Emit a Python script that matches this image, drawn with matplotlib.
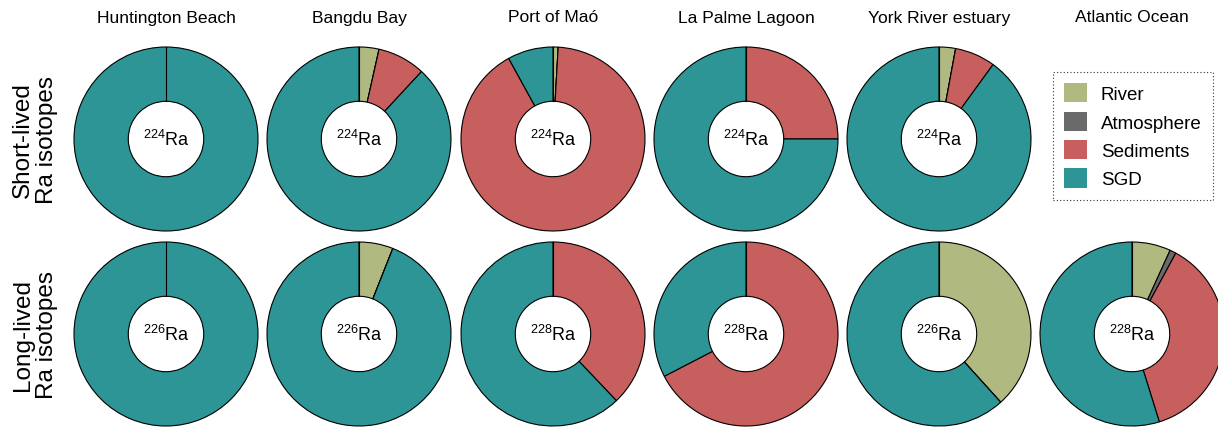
import matplotlib
matplotlib.use("Agg")
import matplotlib.pyplot as plt
from matplotlib.patches import Patch

plt.rcParams['font.family'] = ['Liberation Sans', 'DejaVu Sans']
plt.rcParams['mathtext.fontset'] = 'custom'
plt.rcParams['mathtext.rm'] = 'Liberation Sans'
plt.rcParams['mathtext.it'] = 'Liberation Sans'

sites = ["Huntington Beach", "Bangdu Bay", "Port of Maó",
         "La Palme Lagoon", "York River estuary", "Atlantic Ocean"]
sources = ["River", "Atmosphere", "Sediments", "SGD"]
colors = ["#AFB980", "#6A6A6A", "#C65F5E", "#2D9595"]

# % contribution per source (River, Atmosphere, Sediments, SGD)
short_lived = [
    [0, 0, 0, 100],
    [3.5, 0, 8.4, 88.1],
    [0.9, 0, 91.1, 8.0],
    [0, 0, 25, 75],
    [2.9, 0, 7.1, 90.0],
    None,
]
short_iso = ["224", "224", "224", "224", "224", None]

long_lived = [
    [0, 0, 0, 100],
    [6.0, 0, 0, 94.0],
    [0, 0, 37.9, 62.1],
    [0, 0, 67.4, 32.6],
    [38.3, 0, 0, 61.7],
    [6.8, 1.1, 37.3, 54.8],
]
long_iso = ["226", "226", "228", "228", "226", "228"]

W, H = 1218, 435
fig = plt.figure(figsize=(W / 100, H / 100), dpi=100)

col_x = [166, 359, 553, 746, 939, 1132]
row_y = [140, 335]
rad = 92
half = rad * 1.05
hole = 0.41


def donut(cx, cy, vals, iso):
    ax = fig.add_axes([(cx - half) / W, (H - cy - half) / H, 2 * half / W, 2 * half / H])
    ax.pie(vals, colors=colors, startangle=90, counterclock=False, radius=1,
           wedgeprops=dict(width=1 - hole, edgecolor="black", linewidth=0.8))
    # seam at 12 o'clock (not drawn for a full ring)
    ax.plot([0, 0], [hole, 1], color="black", lw=0.8)
    ax.text(0, 0, "$^{%s}$Ra" % iso, ha="center", va="center", fontsize=13)
    ax.set_xlim(-1.05, 1.05)
    ax.set_ylim(-1.05, 1.05)
    ax.set_aspect("equal")
    ax.axis("off")
    return ax


for i, name in enumerate(sites):
    fig.text(col_x[i] / W, 1 - 18 / H, name, ha="center", va="center", fontsize=12.6)
    if short_lived[i] is not None:
        donut(col_x[i], row_y[0], short_lived[i], short_iso[i])
    donut(col_x[i], row_y[1], long_lived[i], long_iso[i])

fig.text(35 / W, 1 - row_y[0] / H, "Short-lived\nRa isotopes", rotation=90,
         ha="center", va="center", fontsize=17.5, linespacing=1.1)
fig.text(35 / W, 1 - row_y[1] / H, "Long-lived\nRa isotopes", rotation=90,
         ha="center", va="center", fontsize=17.5, linespacing=1.1)

handles = [Patch(facecolor=c, edgecolor="none", label=s) for c, s in zip(colors, sources)]
leg = fig.legend(handles=handles, loc="upper left",
                 bbox_to_anchor=(1053 / W, 1 - 73 / H), fontsize=13.5,
                 fancybox=False, handlelength=1.2, handleheight=1.2,
                 handletextpad=0.75, labelspacing=0.45, borderpad=0.6,
                 borderaxespad=0)
frame = leg.get_frame()
frame.set_edgecolor("black")
frame.set_linestyle((0, (1, 2)))
frame.set_linewidth(0.8)

fig.savefig("out.png", dpi=100)
